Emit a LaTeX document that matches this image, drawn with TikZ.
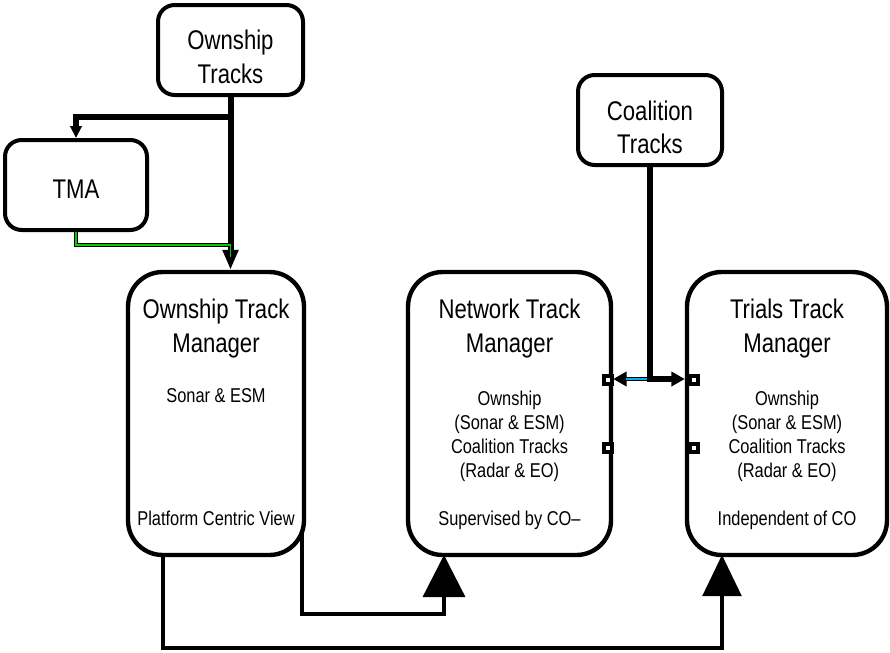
\documentclass[tikz,border=0pt]{standalone}
\usepackage{fontspec}
\setmainfont[FakeStretch=0.82]{Liberation Sans}
\usetikzlibrary{arrows.meta}
\definecolor{tmagreen}{RGB}{0,204,0}
\definecolor{linkcyan}{RGB}{0,176,240}
\begin{document}
\begin{tikzpicture}[x=0.75pt,y=-0.75pt,
  bigbox/.style={draw, line width=3.3pt, rounded corners=26pt, fill=white, minimum height=212.25pt, inner sep=0pt},
  smallbox/.style={draw, line width=3pt, rounded corners=12.5pt, fill=white, minimum height=67.5pt, inner sep=0pt},
  bigtext/.style={anchor=base, inner sep=0pt, font=\fontsize{20.25pt}{24pt}\selectfont},
  smalltext/.style={anchor=base, inner sep=0pt, font=\fontsize{15pt}{18pt}\selectfont},
  thickline/.style={line width=4.5pt, line join=miter},
  greenline/.style={draw=black, line width=1.1pt, double=tmagreen, double distance=1.1pt},
  cyanline/.style={draw=linkcyan, line width=1.1pt},
  botline/.style={line width=2.5pt, line join=miter},
  port/.style={draw, line width=3pt, fill=white, minimum size=6pt, inner sep=0pt}]
\useasboundingbox (0,0) rectangle (890,653);

% boxes
\node[smallbox, minimum width=108.75pt] (ot) at (230.5,50) {};
\node[smallbox, minimum width=106.5pt] (tma) at (76,185) {};
\node[smallbox, minimum width=108pt] (ct) at (650,120) {};
\node[bigbox, minimum width=132pt] (otm) at (216,413.5) {};
\node[bigbox, minimum width=152.25pt] (ntm) at (509.5,413.5) {};
\node[bigbox, minimum width=150pt] (ttm) at (787,413.5) {};

% texts
\node[bigtext] (ot1) at (230.5,50) {Ownship};
\node[bigtext] (ot2) at (230.5,83) {Tracks};
\node[bigtext] (tma1) at (76,198) {TMA};
\node[bigtext] (ct1) at (650,120) {Coalition};
\node[bigtext] (ct2) at (650,153) {Tracks};

\node[bigtext] (otm1) at (216,318) {Ownship Track};
\node[bigtext] (otm2) at (216,352) {Manager};
\node[smalltext] (otm3) at (216,402) {Sonar \& ESM};
\node[smalltext] (otm4) at (216,525) {Platform Centric View};

\node[bigtext] (ntm1) at (509.5,318) {Network Track};
\node[bigtext] (ntm2) at (509.5,352) {Manager};
\node[smalltext] (ntm3) at (509.5,405) {Ownship};
\node[smalltext] (ntm4) at (509.5,429) {(Sonar \& ESM)};
\node[smalltext] (ntm5) at (509.5,453) {Coalition Tracks};
\node[smalltext] (ntm6) at (509.5,477) {(Radar \& EO)};
\node[smalltext] (ntm7) at (509.5,525) {Supervised by CO–};

\node[bigtext] (ttm1) at (787,318) {Trials Track};
\node[bigtext] (ttm2) at (787,352) {Manager};
\node[smalltext] (ttm3) at (787,405) {Ownship};
\node[smalltext] (ttm4) at (787,429) {(Sonar \& ESM)};
\node[smalltext] (ttm5) at (787,453) {Coalition Tracks};
\node[smalltext] (ttm6) at (787,477) {(Radar \& EO)};
\node[smalltext] (ttm7) at (787,525) {Independent of CO};

% ownship tracks connectors
\coordinate (br) at (230.5,117);
\coordinate (tmaj) at (230.5,245);
\coordinate (tmae) at (230.5,257);
\draw[thickline, -{Triangle[length=15pt,width=11.25pt]}] (ot.south) -- (ot.south |- otm.north);
\draw[thickline, -{Triangle[length=9pt,width=8.5pt]}] (br) -| (tma.north);
\draw[greenline] (tma.south) |- (tmaj) -- (tmae);

% coalition connectors
\coordinate (cj) at (650,379);
\coordinate (cjb) at (650,381.5);
\coordinate (cyA) at (647,379);
\coordinate (cyB) at (626,379);
\draw[line width=4.5pt] (ct.south) -- (cjb);
\draw[line width=3.6pt, -{Triangle[length=10pt,width=10.5pt]}] (cj) -- (ntm.east |- cj);
\draw[line width=3.9pt, -{Triangle[length=10pt,width=10.5pt]}] (cj) -- (ttm.west |- cj);
\draw[cyanline] (cyA) -- (cyB);

% bottom connectors
\coordinate (b1s) at (163,554);
\coordinate (b1m) at (163,648);
\coordinate (ttmin) at (722,555);
\coordinate (b2s) at (302,533);
\coordinate (b2m) at (302,614);
\coordinate (ntmin) at (444,555);
\draw[botline, -{Triangle[length=30.75pt,width=29pt]}] (b1s) -- (b1m) -| (ttmin);
\draw[botline, -{Triangle[length=31.5pt,width=31.5pt]}] (b2s) -- (b2m) -| (ntmin);

% ports
\node[port] (p1) at (608,380) {};
\node[port] (p2) at (608,448) {};
\node[port] (p3) at (694,380) {};
\node[port] (p4) at (694,448) {};
\end{tikzpicture}
\end{document}
